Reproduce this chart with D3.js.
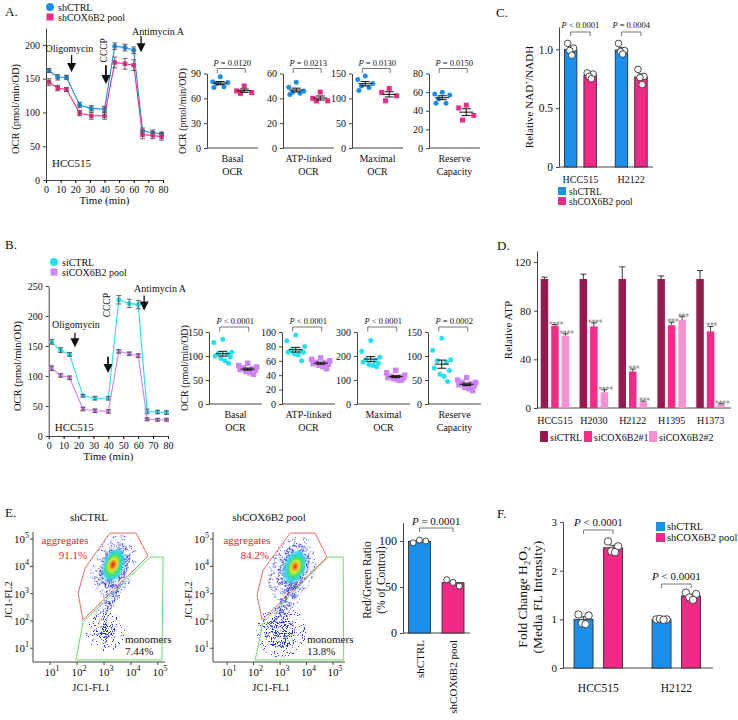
<!DOCTYPE html>
<html><head><meta charset="utf-8">
<script src="https://cdn.jsdelivr.net/npm/d3@7"></script>
<style>
body{margin:0;background:#fff}
svg{display:block}
</style></head><body>
<svg id="c" width="738" height="720"></svg>
<script>
// ================= DATA =================
const timePts = [2, 8, 14, 23, 31, 40, 47, 54, 60, 66, 73, 79];
const timeTicks = [0, 10, 20, 30, 40, 50, 60, 70, 80];
// Panel A time course (shCTRL / shCOX6B2 pool)
const aCtrlOCR = [162, 152, 152, 111, 106, 105, 198, 196, 192, 73, 70, 68];
const aCtrlErr = [3, 4, 3, 4, 4, 4, 5, 5, 5, 4, 4, 3];
const aKdOCR = [145, 136, 134, 99, 95, 95, 174, 172, 170, 67, 66, 64];
const aKdErr = [5, 4, 3, 4, 5, 5, 8, 8, 8, 6, 5, 5];
// Panel B time course (siCTRL / siCOX6B2 pool)
const bCtrlOCR = [157, 143, 136, 67, 63, 63, 227, 221, 219, 41, 40, 39];
const bCtrlErr = [4, 4, 3, 2, 3, 3, 7, 7, 7, 4, 3, 3];
const bKdOCR = [113, 101, 97, 45, 42, 41, 141, 137, 134, 28, 27, 27];
const bKdErr = [4, 3, 3, 3, 3, 3, 3, 3, 3, 2, 2, 2];
// Panel A dot plots
const aBasalCtrl = [86, 80, 79, 78, 74, 73];
const aBasalKd = [75, 69, 67, 66];
const aATPCtrl = [53, 49, 46, 45, 44, 43];
const aATPKd = [45, 40, 38, 38];
const aMaxCtrl = [145, 138, 130, 125, 122, 116];
const aMaxKd = [120, 112, 105, 95];
const aResCtrl = [60, 58, 57, 53, 48, 48];
const aResKd = [46, 43, 35, 30];
const aPvals = ["= 0.0120", "= 0.0213", "= 0.0130", "= 0.0150"];
// Panel B dot plots
const bBasalCtrl = [135, 128, 108, 105, 104, 100, 98, 95, 90, 85];
const bBasalKd = [85, 80, 77, 75, 73, 72, 70, 68, 65, 62];
const bATPCtrl = [96, 88, 80, 75, 73, 72, 72, 70, 68, 60];
const bATPKd = [64, 62, 60, 58, 57, 56, 55, 54, 52, 49];
const bMaxCtrl = [265, 220, 195, 185, 180, 175, 170, 165, 160, 155];
const bMaxKd = [140, 130, 120, 115, 112, 110, 108, 105, 100, 100];
const bResCtrl = [137, 112, 92, 90, 87, 75, 70, 62, 58, 47];
const bResKd = [55, 50, 45, 45, 42, 40, 38, 35, 32, 28];
const bPvals = ["< 0.0001", "< 0.0001", "< 0.0001", "= 0.0002"];
const dotLabels1 = ["Basal", "ATP-linked", "Maximal", "Reserve"];
const dotLabels2 = ["OCR", "OCR", "OCR", "Capacity"];
// Panel C NAD+/NADH
const cCells = ["HCC515", "H2122"];
const cCtrlPts = [[1.05, 1.01, 0.99, 0.95], [1.05, 0.99, 0.98, 0.96]];
const cKdPts = [[0.80, 0.79, 0.77, 0.75], [0.83, 0.77, 0.76, 0.70]];
const cPvals = ["< 0.0001", "= 0.0004"];
// Panel D relative ATP
const dCells = ["HCC515", "H2030", "H2122", "H1395", "H1373"];
const dCtrl = [106, 106, 106, 106, 106];
const dCtrlErr = [1.5, 4, 10, 2.5, 7];
const dSi1 = [67.5, 67, 30, 68, 63];
const dSi1Err = [1, 3, 2, 2.5, 4];
const dSi2 = [59.5, 13, 5, 72.5, 3];
const dSi2Err = [1.5, 2, 0.7, 2.5, 0.5];
const dSi1Stars = ["****", "****", "***", "***", "***"];
const dSi2Stars = ["****", "****", "***", "***", "****"];
const dSeries = ["siCTRL", "siCOX6B2#1", "siCOX6B2#2"];
// Panel E flow cytometry (log10 units): density blobs [cx, cy, rx, ry, rotation, level]
const flowTicks = [1, 2, 3, 4, 5];
const flowCtrlBlobs = [
  [3.35, 4.0, 0.8, 1.2, 20, 0], [3.05, 1.6, 0.72, 0.72, 0, 0], [3.25, 2.8, 0.3, 1.0, 30, 0],
  [3.38, 4.0, 0.52, 0.85, 20, 1], [3.05, 1.6, 0.35, 0.35, 0, 1], [3.3, 2.85, 0.16, 0.6, 30, 1],
  [3.36, 4.05, 0.36, 0.6, 20, 2], [3.34, 4.05, 0.26, 0.45, 20, 3], [3.33, 4.05, 0.18, 0.3, 20, 4],
  [3.33, 4.05, 0.11, 0.2, 20, 5], [3.33, 4.07, 0.06, 0.12, 20, 6]
];
const flowKdBlobs = [
  [3.45, 3.9, 0.85, 1.25, 20, 0], [3.05, 1.6, 0.95, 0.95, 0, 0], [3.3, 2.7, 0.35, 1.0, 30, 0],
  [3.5, 3.95, 0.58, 0.92, 20, 1], [3.0, 1.6, 0.55, 0.6, 0, 1], [3.25, 2.75, 0.2, 0.75, 30, 1],
  [3.55, 3.98, 0.38, 0.6, 20, 2], [3.57, 3.98, 0.27, 0.42, 20, 3], [3.57, 3.98, 0.18, 0.28, 20, 4],
  [3.57, 3.98, 0.11, 0.17, 20, 5], [3.57, 4.0, 0.06, 0.09, 20, 6]
];
const flowCtrlRed = [[3.22, 5.22], [4.19, 5.22], [4.63, 4.38], [2.22, 2.03], [2.04, 3.02], [2.30, 3.94]];
const flowCtrlGreen = [[4.70, 4.34], [5.19, 4.34], [5.15, 0.57], [1.96, 0.57], [2.22, 1.95]];
const flowKdRed = [[3.38, 5.22], [4.32, 5.22], [4.77, 4.34], [2.32, 2.03], [2.13, 2.95], [2.36, 3.86]];
const flowKdGreen = [[4.81, 4.34], [5.38, 4.34], [5.40, 0.57], [2.06, 0.57], [2.36, 1.95]];
const flowPct = [["91.1%", "7.44%"], ["84.2%", "13.8%"]];
const eGroups = ["shCTRL", "shCOX6B2 pool"];
const ePts = [[98, 101, 100], [58, 55, 51]];
// Panel F H2O2
const fCells = ["HCC515", "H2122"];
const fCtrlPts = [[1.10, 1.08, 0.92, 0.90], [1.00, 1.00, 1.01, 0.99]];
const fKdPts = [[2.60, 2.50, 2.40, 2.38], [1.55, 1.52, 1.45, 1.40]];

// ================= STYLE =================
const FF = "'Liberation Serif','Times New Roman',serif";
const BLUE = "#1b8fe9", PINK = "#f02a86", CYAN = "#22e2ef", PURP = "#cd84f0";
const D_COL = ["#951a50", "#f52a88", "#f78fd0"];
const densCol = ["#2f3cf4", "#2030e8", "#2fd3f2", "#45e35c", "#f2f02c", "#ff9420", "#f01616"];
const densFilt = ["speck0", "speck1", "soft", "soft", "soft", "soft", "soft"];

const svg = d3.select("#c").attr("font-family", FF);
const defs = svg.append("defs");
defs.html(`
<filter id="speck0" x="-10%" y="-10%" width="120%" height="120%">
 <feTurbulence type="fractalNoise" baseFrequency="0.9" numOctaves="1" seed="4" result="n"/>
 <feColorMatrix in="n" type="matrix" values="0 0 0 0 0 0 0 0 0 0 0 0 0 0 0 0 0 0 -25 9.4" result="m"/>
 <feComposite in="SourceGraphic" in2="m" operator="in"/>
</filter>
<filter id="speck1" x="-10%" y="-10%" width="120%" height="120%">
 <feTurbulence type="fractalNoise" baseFrequency="0.9" numOctaves="1" seed="9" result="n"/>
 <feColorMatrix in="n" type="matrix" values="0 0 0 0 0 0 0 0 0 0 0 0 0 0 0 0 0 0 -25 11.2" result="m"/>
 <feComposite in="SourceGraphic" in2="m" operator="in"/>
</filter>
<filter id="soft" x="-30%" y="-30%" width="160%" height="160%">
 <feGaussianBlur stdDeviation="1.3"/>
</filter>`);

// ================= HELPERS =================
function txt(g, x, y, s, o = {}) {
  const t = g.append("text").attr("x", x).attr("y", y)
    .attr("font-size", o.size || 10).attr("text-anchor", o.anchor || "middle")
    .attr("fill", o.fill || "#111");
  if (o.rot) t.attr("transform", `rotate(${o.rot},${x},${y})`);
  if (o.ls) t.attr("letter-spacing", o.ls);
  if (o.font) t.attr("font-family", o.font);
  if (o.html) t.html(s); else t.text(s);
  return t;
}
function pText(v) { return `<tspan font-style="italic">P</tspan> ${v}`; }
function yAxis(g, y, x, ticks, fmt, size) {
  const a = g.append("g").attr("transform", `translate(${x},0)`)
    .call(d3.axisLeft(y).tickValues(ticks).tickSize(3).tickSizeOuter(0).tickFormat(fmt || (d => d)));
  a.attr("font-family", FF).attr("font-size", size || 10);
  a.selectAll("text").attr("fill", "#111");
  a.select(".domain").attr("stroke", "#444");
  a.selectAll(".tick line").attr("stroke", "#444");
  return a;
}
function hline(g, x0, x1, y) {
  g.append("line").attr("x1", x0).attr("x2", x1).attr("y1", y).attr("y2", y).attr("stroke", "#444");
}
function bracket(g, xa, xb, y, drop) {
  g.append("path").attr("d", `M${xa},${y + drop}V${y}H${xb}V${y + drop}`)
    .attr("fill", "none").attr("stroke", "#666").attr("stroke-width", 0.9);
}
function arrow(g, x, y1, y2, w) {
  const hl = 9, hw = 4.5;
  g.append("line").attr("x1", x).attr("x2", x).attr("y1", y1).attr("y2", y2 - hl + 1)
    .attr("stroke", "#111").attr("stroke-width", w || 1.4);
  g.append("path").attr("d", `M${x - hw},${y2 - hl}L${x + hw},${y2 - hl}L${x},${y2}Z`).attr("fill", "#111");
}
function marker(g, shape, x, y, size, color) {
  if (shape === "circle") g.append("circle").attr("cx", x).attr("cy", y).attr("r", size / 2).attr("fill", color);
  else g.append("rect").attr("x", x - size / 2).attr("y", y - size / 2).attr("width", size).attr("height", size).attr("fill", color);
}
const sem = a => d3.deviation(a) / Math.sqrt(a.length);

// ================= TIME COURSE =================
function timeCourse(o) {
  const g = svg.append("g");
  const x = d3.scaleLinear([0, 80], [o.x0, o.x1]);
  const y = d3.scaleLinear([0, o.ymax], [o.yb, o.yt]);
  yAxis(g, y, o.x0, o.yticks);
  const xa = g.append("g").attr("transform", `translate(0,${o.yb})`)
    .call(d3.axisBottom(x).tickValues(timeTicks).tickSize(3).tickSizeOuter(0));
  xa.attr("font-family", FF).attr("font-size", 10);
  xa.selectAll("text").attr("fill", "#111");
  xa.select(".domain").attr("stroke", "#444");
  txt(g, (o.x0 + o.x1) / 2, o.yb + 24, "Time (min)", { size: 11 });
  txt(g, o.ylx, (o.yb + o.yt) / 2 + 5, "OCR (pmol/min/OD)", { size: 10.5, rot: -90 });
  o.series.forEach(s => {
    const pts = timePts.map((t, i) => ({ t, v: s.vals[i], e: s.err[i] }));
    g.append("path").datum(pts).attr("d", d3.line().x(d => x(d.t)).y(d => y(d.v)))
      .attr("fill", "none").attr("stroke", s.color).attr("stroke-width", 1.1);
    pts.forEach(d => marker(g, s.shape, x(d.t), y(d.v), s.size, s.color));
    pts.forEach(d => {
      const cx = x(d.t), ya = y(d.v + d.e), yb = y(d.v - d.e);
      g.append("path").attr("d", `M${cx},${ya}V${yb}M${cx - 2.5},${ya}H${cx + 2.5}M${cx - 2.5},${yb}H${cx + 2.5}`)
        .attr("stroke", "#555").attr("stroke-width", 0.9).attr("fill", "none");
    });
  });
  const an = o.ann;
  txt(g, x(an.oligoText[0]), y(an.oligoText[1]), "Oligomycin", { size: 10 });
  arrow(g, x(an.oligo[0]), y(an.oligo[1]), y(an.oligo[2]), 1.3);
  txt(g, x(an.cccpText[0]), y(an.cccpText[1]), "CCCP", { size: 9.5, rot: -90 });
  arrow(g, x(an.cccp[0]), y(an.cccp[1]), y(an.cccp[2]), 1.8);
  txt(g, x(an.antiText[0]), y(an.antiText[1]), "Antimycin A", { size: 10 });
  arrow(g, x(an.anti[0]), y(an.anti[1]), y(an.anti[2]), 1.3);
  txt(g, o.x0 + 6, o.cellY, "HCC515", { size: 11, anchor: "start" });
  o.series.forEach((s, i) => {
    marker(g, s.shape, o.legX, o.legY + i * 10, s.shape === "circle" ? 8 : 7, s.color);
    txt(g, o.legX + 8, o.legY + i * 10 + 3.5, s.name, { size: 10, anchor: "start" });
  });
}

timeCourse({
  x0: 46, x1: 163, yb: 180, yt: 28, ymax: 225, yticks: [0, 50, 100, 150, 200], ylx: 19,
  cellY: 167, legX: 50, legY: 7,
  series: [
    { name: "shCTRL", vals: aCtrlOCR, err: aCtrlErr, color: BLUE, shape: "circle", size: 5 },
    { name: "shCOX6B2 pool", vals: aKdOCR, err: aKdErr, color: PINK, shape: "rect", size: 4.5 }
  ],
  ann: { oligoText: [16, 190], oligo: [17.5, 185, 160], cccpText: [42, 192], cccp: [41, 170, 142],
         antiText: [76.6, 214], anti: [65, 213, 189] }
});
timeCourse({
  x0: 48.7, x1: 168, yb: 436, yt: 286, ymax: 250, yticks: [0, 50, 100, 150, 200, 250], ylx: 21,
  cellY: 431, legX: 54, legY: 262,
  series: [
    { name: "siCTRL", vals: bCtrlOCR, err: bCtrlErr, color: CYAN, shape: "circle", size: 5 },
    { name: "siCOX6B2 pool", vals: bKdOCR, err: bKdErr, color: PURP, shape: "rect", size: 4.5 }
  ],
  ann: { oligoText: [18.3, 180], oligo: [17.6, 172, 148], cccpText: [40.8, 218], cccp: [39.8, 132, 105],
         antiText: [74.7, 240], anti: [64, 234, 209] }
});

// ================= DOT PLOTS =================
const jit = [0, -1, 1, -0.5, 0.5, -0.85, 0.85, -0.2, 0.25, 0.65];
function dotPlot(o) {
  const g = svg.append("g");
  const y = d3.scaleLinear([0, o.ymax], [o.yb, o.yt]);
  const x = d3.scalePoint([0, 1], [o.x0 + o.w * 0.26, o.x0 + o.w * 0.73]);
  yAxis(g, y, o.x0, o.ticks);
  hline(g, o.x0, o.x0 + o.w, o.yb);
  [o.ctrl, o.kd].forEach((arr, gi) => {
    const sorted = arr.slice().sort((a, b) => b - a);
    sorted.forEach((v, i) => marker(g, gi ? o.kShape : o.cShape, x(gi) + jit[i] * o.spread, y(v), gi ? o.kSize : o.cSize, gi ? o.kColor : o.cColor));
    const m = d3.mean(arr), s = sem(arr), cx = x(gi);
    g.append("path").attr("d", `M${cx - 7},${y(m)}H${cx + 7}M${cx},${y(m + s)}V${y(m - s)}M${cx - 4.5},${y(m + s)}H${cx + 4.5}M${cx - 4.5},${y(m - s)}H${cx + 4.5}`)
      .attr("stroke", "#111").attr("stroke-width", 1).attr("fill", "none");
  });
  bracket(g, x(0) - 3, x(1) + 1, o.yt - 5, 4.5);
  txt(g, (x(0) + x(1)) / 2, o.yt - 8, pText(o.p), { size: 8.5, html: true });
  txt(g, o.x0 + o.w / 2, o.yb + 13.5, o.l1, { size: 10 });
  txt(g, o.x0 + o.w / 2, o.yb + 27, o.l2, { size: 10 });
}
const aSets = [[aBasalCtrl, aBasalKd, 90, [0, 30, 60, 90]], [aATPCtrl, aATPKd, 60, [0, 20, 40, 60]],
  [aMaxCtrl, aMaxKd, 150, [0, 50, 100, 150]], [aResCtrl, aResKd, 80, [0, 20, 40, 60, 80]]];
const aX = [207, 283, 352, 429];
aSets.forEach((s, i) => dotPlot({
  x0: aX[i], w: 51, yb: 148, yt: 73.5, ymax: s[2], ticks: s[3], ctrl: s[0], kd: s[1],
  cColor: BLUE, kColor: PINK, cShape: "circle", kShape: "rect", cSize: 5, kSize: 5, spread: 7.5,
  p: aPvals[i], l1: dotLabels1[i], l2: dotLabels2[i]
}));
const bSets = [[bBasalCtrl, bBasalKd, 150, [0, 50, 100, 150]], [bATPCtrl, bATPKd, 100, [0, 20, 40, 60, 80, 100]],
  [bMaxCtrl, bMaxKd, 300, [0, 100, 200, 300]], [bResCtrl, bResKd, 150, [0, 50, 100, 150]]];
const bX = [209, 282, 357, 428];
bSets.forEach((s, i) => dotPlot({
  x0: bX[i], w: 53, yb: 404, yt: 332, ymax: s[2], ticks: s[3], ctrl: s[0], kd: s[1],
  cColor: CYAN, kColor: PURP, cShape: "circle", kShape: "rect", cSize: 5, kSize: 5.5, spread: 9,
  p: bPvals[i], l1: dotLabels1[i], l2: dotLabels2[i]
}));
txt(svg, 186, 111, "OCR (pmol/min/OD)", { size: 10, rot: -90 });
txt(svg, 188, 368, "OCR (pmol/min/OD)", { size: 10, rot: -90 });

// ================= BAR + POINTS helper =================
function subBand(keys, step, bw, groupBW) {
  const L = (keys.length - 1) * step + bw;
  return d3.scaleBand(keys, [(groupBW - L) / 2, (groupBW + L) / 2]).paddingInner(1 - bw / step).paddingOuter(0);
}
const ptJit = [-0.75, 0.75, -0.25, 0.3];
function barsWithPoints(g, xg, sub, y, cats, series, r) {
  cats.forEach((c, ci) => {
    series.forEach(s => {
      const pts = s.pts[ci], m = d3.mean(pts), e = sem(pts);
      const bx = xg(c) + sub(s.key), bw = sub.bandwidth(), cx = bx + bw / 2;
      g.append("rect").attr("x", bx).attr("y", y(m)).attr("width", bw).attr("height", y(0) - y(m))
        .attr("fill", s.color).attr("stroke", "#222").attr("stroke-width", 0.8);
      g.append("path").attr("d", `M${cx},${y(m - e)}V${y(m + e)}M${cx - 3},${y(m + e)}H${cx + 3}`)
        .attr("stroke", "#222").attr("stroke-width", 0.9).attr("fill", "none");
      pts.forEach((v, i) => g.append("circle").attr("cx", cx + ptJit[i] * (bw / 2 - r + 1)).attr("cy", y(v)).attr("r", r)
        .attr("fill", "#fff").attr("stroke", "#333").attr("stroke-width", 0.9));
    });
  });
}

// ================= PANEL C =================
{
  const g = svg.append("g");
  const y = d3.scaleLinear([0, 1.19], [167, 27]);
  const xg = d3.scaleBand(cCells, [555, 656.6]);
  const sub = subBand(["ctrl", "kd"], 19.5, 12.5, xg.bandwidth());
  yAxis(g, y, 559, [0, 0.5, 1.0], d => d === 0 ? "0" : d3.format(".1f")(d), 11.5);
  hline(g, 559, 653, 167);
  barsWithPoints(g, xg, sub, y, cCells, [{ key: "ctrl", pts: cCtrlPts, color: BLUE }, { key: "kd", pts: cKdPts, color: PINK }], 3.3);
  cCells.forEach((c, i) => {
    const a = xg(c) + sub("ctrl") + sub.bandwidth() / 2, b = xg(c) + sub("kd") + sub.bandwidth() / 2;
    bracket(g, a, b, 32, 4);
    txt(g, (a + b) / 2, 28, pText(cPvals[i]), { size: 8.5, html: true });
    txt(g, xg(c) + xg.bandwidth() / 2, 183, c, { size: 10 });
  });
  txt(g, 533, 97, "Relative NAD<tspan dy='-4' font-size='7.5'>+</tspan><tspan dy='4'>/NADH</tspan>", { size: 11, rot: -90, html: true });
  [["shCTRL", BLUE], ["shCOX6B2 pool", PINK]].forEach((l, i) => {
    g.append("rect").attr("x", 558).attr("y", 187 + i * 10).attr("width", 8).attr("height", 8).attr("fill", l[1]);
    txt(g, 569, 194.5 + i * 10, l[0], { size: 9.5, anchor: "start" });
  });
  txt(g, 496, 17, "C.", { size: 13, anchor: "start" });
}

// ================= PANEL D =================
{
  const g = svg.append("g");
  const y = d3.scaleLinear([0, 129], [408, 251]);
  const xg = d3.scaleBand(dCells, [535.5, 730]);
  const sub = subBand(dSeries, 10.5, 7.5, xg.bandwidth());
  yAxis(g, y, 537, [0, 40, 80, 120], null, 11);
  hline(g, 537, 731, 408);
  const ser = [[dCtrl, dCtrlErr, null], [dSi1, dSi1Err, dSi1Stars], [dSi2, dSi2Err, dSi2Stars]];
  dCells.forEach((c, ci) => {
    ser.forEach((s, si) => {
      const v = s[0][ci], e = s[1][ci];
      const bx = xg(c) + sub(dSeries[si]), bw = sub.bandwidth(), cx = bx + bw / 2;
      g.append("rect").attr("x", bx).attr("y", y(v)).attr("width", bw).attr("height", y(0) - y(v)).attr("fill", D_COL[si]);
      g.append("path").attr("d", `M${cx},${y(v)}V${y(v + e)}M${cx - 3},${y(v + e)}H${cx + 3}`)
        .attr("stroke", "#222").attr("stroke-width", 0.9).attr("fill", "none");
      if (s[2]) txt(g, cx + 1, y(v + e) + 3, s[2][ci], { size: 8.5, fill: "#7a7a7a", ls: -0.6, font: "DejaVu Sans" });
    });
    txt(g, xg(c) + xg.bandwidth() / 2, 424, c, { size: 10 });
  });
  txt(g, 512, 330, "Relative ATP", { size: 11, rot: -90 });
  const lx = [540, 584, 649];
  dSeries.forEach((s, i) => {
    g.append("rect").attr("x", lx[i]).attr("y", 431).attr("width", 8).attr("height", 11).attr("fill", D_COL[i]);
    txt(g, lx[i] + 10, 441, s, { size: 10, anchor: "start" });
  });
  txt(g, 497, 250, "D.", { size: 13, anchor: "start" });
}

// ================= PANEL E (flow) =================
function flowPlot(o) {
  const g = svg.append("g");
  const x = d3.scaleLinear([o.xlo, o.xhi], [o.x0, o.x1]);
  const y = d3.scaleLinear([0.495, 5.26], [662, 532]);
  const cid = "clip" + o.id;
  defs.append("clipPath").attr("id", cid).append("rect").attr("x", o.x0).attr("y", 532).attr("width", o.x1 - o.x0).attr("height", 130);
  const dg = g.append("g").attr("clip-path", `url(#${cid})`);
  o.blobs.forEach(([cx, cy, rx, ry, rot, l]) => {
    dg.append("ellipse").attr("cx", x(cx)).attr("cy", y(cy))
      .attr("rx", x(cx + rx) - x(cx)).attr("ry", y(cy) - y(cy + ry))
      .attr("transform", `rotate(${rot} ${x(cx)} ${y(cy)})`)
      .attr("fill", densCol[l]).attr("filter", `url(#${densFilt[l]})`);
  });
  const ln = d3.line().x(d => x(d[0])).y(d => y(d[1])).curve(d3.curveLinearClosed);
  g.append("path").attr("d", ln(o.green)).attr("fill", "none").attr("stroke", "#66e066").attr("stroke-width", 1);
  g.append("path").attr("d", ln(o.red)).attr("fill", "none").attr("stroke", "#f26464").attr("stroke-width", 1);
  g.append("line").attr("x1", o.x0).attr("x2", o.x1).attr("y1", 662).attr("y2", 662).attr("stroke", "#444");
  g.append("line").attr("x1", o.x0).attr("x2", o.x0).attr("y1", 662).attr("y2", 532).attr("stroke", "#444");
  flowTicks.forEach(k => {
    g.append("line").attr("x1", x(k)).attr("x2", x(k)).attr("y1", 662).attr("y2", 665).attr("stroke", "#444");
    txt(g, x(k) + 2, 676, `10<tspan dy="-5" font-size="8">${k}</tspan>`, { size: 11, html: true });
    g.append("line").attr("x1", o.x0 - 3).attr("x2", o.x0).attr("y1", y(k)).attr("y2", y(k)).attr("stroke", "#444");
    txt(g, o.x0 - 4, y(k) + 4, `10<tspan dy="-5" font-size="8">${k}</tspan>`, { size: 11, anchor: "end", html: true });
  });
  txt(g, (o.x0 + o.x1) / 2 - 8, 691, "JC1-FL1", { size: 10.5 });
  txt(g, o.x0 - 21, 600, "JC1-FL2", { size: 10.5, rot: -90 });
  txt(g, (o.x0 + o.x1) / 2 - 10, 521, o.title, { size: 11 });
  txt(g, o.aggX, 544, "aggregates", { size: 11, fill: "#ee2222" });
  txt(g, o.aggX + 8, 559, o.pct[0], { size: 11, fill: "#ee2222" });
  txt(g, o.monX, 643, "monomers", { size: 11, anchor: "start" });
  txt(g, o.monX, 655, o.pct[1], { size: 11, anchor: "start" });
}
flowPlot({ id: 1, x0: 33, x1: 165, xlo: 0.37, xhi: 5.26, blobs: flowCtrlBlobs, red: flowCtrlRed, green: flowCtrlGreen,
  title: "shCTRL", pct: flowPct[0], aggX: 65, monX: 125 });
flowPlot({ id: 2, x0: 213, x1: 345, xlo: 0.47, xhi: 5.45, blobs: flowKdBlobs, red: flowKdRed, green: flowKdGreen,
  title: "shCOX6B2 pool", pct: flowPct[1], aggX: 247, monX: 307 });
txt(svg, 5, 517, "E.", { size: 13, anchor: "start" });

// E bar chart
{
  const g = svg.append("g");
  const y = d3.scaleLinear([0, 120], [633, 522.6]);
  const xg = d3.scaleBand(eGroups, [408.5, 464]).paddingInner(1 - 22 / 33.5).paddingOuter(0);
  yAxis(g, y, 403, [0, 50, 100], null, 12);
  hline(g, 403, 470, 633);
  const cols = [BLUE, PINK];
  eGroups.forEach((c, i) => {
    const pts = ePts[i], m = d3.mean(pts), e = sem(pts), bx = xg(c), bw = xg.bandwidth(), cx = bx + bw / 2;
    g.append("rect").attr("x", bx).attr("y", y(m)).attr("width", bw).attr("height", y(0) - y(m))
      .attr("fill", cols[i]).attr("stroke", "#222").attr("stroke-width", 0.8);
    g.append("path").attr("d", `M${cx},${y(m - e)}V${y(m + e)}M${cx - 3},${y(m + e)}H${cx + 3}`)
      .attr("stroke", "#222").attr("stroke-width", 0.9).attr("fill", "none");
    pts.forEach((v, j) => g.append("circle").attr("cx", cx + [-0.7, 0, 0.7][j] * (bw / 2 - 2)).attr("cy", y(v)).attr("r", 3)
      .attr("fill", "#fff").attr("stroke", "#333").attr("stroke-width", 0.9));
    txt(g, cx + 4, 640, c, { size: 11, anchor: "end", rot: -90 });
  });
  const a = xg(eGroups[0]) + xg.bandwidth() / 2, b = xg(eGroups[1]) + xg.bandwidth() / 2;
  bracket(g, a, b, 528, 4);
  txt(g, (a + b) / 2, 525, pText("= 0.0001"), { size: 11, html: true });
  txt(g, 371, 580, "Red/Green Ratio", { size: 11.5, rot: -90 });
  txt(g, 385, 580, "(% of Control)", { size: 11.5, rot: -90 });
}

// ================= PANEL F =================
{
  const g = svg.append("g");
  const y = d3.scaleLinear([0, 3], [668, 522]);
  const xg = d3.scaleBand(fCells, [559.3, 715.3]);
  const sub = subBand(["ctrl", "kd"], 29.5, 19, xg.bandwidth());
  yAxis(g, y, 563, [0, 1, 2, 3], null, 11);
  hline(g, 563, 713, 668);
  barsWithPoints(g, xg, sub, y, fCells, [{ key: "ctrl", pts: fCtrlPts, color: BLUE }, { key: "kd", pts: fKdPts, color: PINK }], 3.7);
  const pY = [530, 584];
  fCells.forEach((c, i) => {
    const a = xg(c) + sub("ctrl") + sub.bandwidth() / 2, b = xg(c) + sub("kd") + sub.bandwidth() / 2;
    bracket(g, a, b, pY[i], 4);
    txt(g, (a + b) / 2, pY[i] - 4, pText("< 0.0001"), { size: 11, html: true });
    txt(g, xg(c) + xg.bandwidth() / 2, 692, c, { size: 11.5 });
  });
  txt(g, 527, 597, "Fold Change H<tspan dy='3' font-size='9'>2</tspan><tspan dy='-3'>O</tspan><tspan dy='3' font-size='9'>2</tspan>", { size: 13.5, rot: -90, html: true });
  txt(g, 542, 597, "(Media FL Intensity)", { size: 13.5, rot: -90 });
  [["shCTRL", BLUE], ["shCOX6B2 pool", PINK]].forEach((l, i) => {
    g.append("rect").attr("x", 656).attr("y", 522 + i * 11).attr("width", 9).attr("height", 9).attr("fill", l[1]);
    txt(g, 667, 530 + i * 11, l[0], { size: 10.5, anchor: "start" });
  });
  txt(g, 497, 518, "F.", { size: 13, anchor: "start" });
}
txt(svg, 5, 16, "A.", { size: 13, anchor: "start" });
txt(svg, 5, 249, "B.", { size: 13, anchor: "start" });
</script></body></html>
